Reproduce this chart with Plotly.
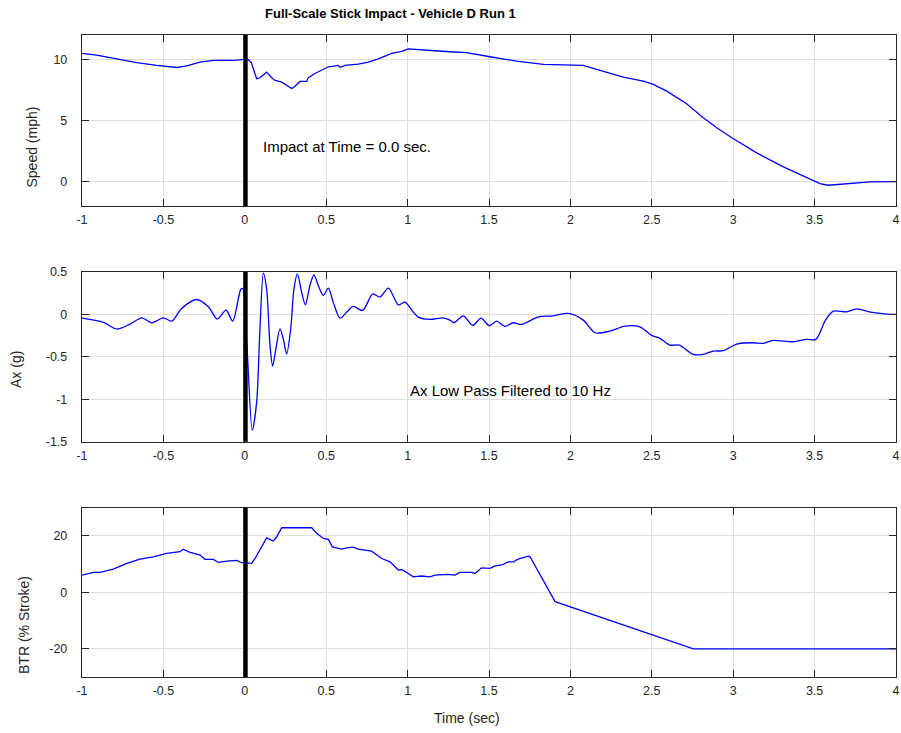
import plotly.graph_objects as go

# ---------------- data ----------------
speed_t = [-1.0, -0.91, -0.787, -0.664, -0.541, -0.418, -0.357, -0.275, -0.193, -0.07, 0.0,
           0.02, 0.04, 0.073, 0.093, 0.134, 0.165, 0.186, 0.227, 0.257, 0.288, 0.308, 0.339,
           0.38, 0.39, 0.431, 0.472, 0.513, 0.574, 0.585, 0.615, 0.697, 0.759, 0.82, 0.902,
           0.964, 1.004, 1.086, 1.168, 1.26, 1.363, 1.506, 1.67, 1.834, 1.998, 2.079, 2.182,
           2.325, 2.448, 2.509, 2.592, 2.714, 2.816, 2.899, 3.001, 3.144, 3.308, 3.43, 3.533,
           3.584, 3.717, 3.84, 4.0]
speed_v = [10.49, 10.35, 10.05, 9.73, 9.51, 9.34, 9.48, 9.78, 9.92, 9.92, 10.0,
           10.0, 9.73, 8.42, 8.5, 8.96, 8.5, 8.28, 8.14, 7.9, 7.62, 7.81, 8.2,
           8.2, 8.5, 8.85, 9.12, 9.4, 9.51, 9.34, 9.51, 9.61, 9.78, 10.05, 10.49,
           10.66, 10.87, 10.82, 10.71, 10.63, 10.55, 10.22, 9.86, 9.59, 9.56, 9.51, 9.1,
           8.55, 8.22, 7.95, 7.4, 6.37, 5.22, 4.4, 3.5, 2.35, 1.2, 0.49, -0.16,
           -0.3, -0.16, -0.03, 0.0]

ax_t = [-1.0, -0.869, -0.787, -0.705, -0.633, -0.572, -0.5, -0.449, -0.388, -0.295, -0.224,
        -0.169, -0.115, -0.074, -0.025, -0.013, 0.012, 0.046, 0.073, 0.093, 0.114, 0.134,
        0.155, 0.171, 0.191, 0.216, 0.236, 0.257, 0.282, 0.302, 0.323, 0.349, 0.372, 0.4,
        0.425, 0.451, 0.482, 0.513, 0.543, 0.585, 0.626, 0.666, 0.724, 0.786, 0.83, 0.882,
        0.943, 0.984, 1.035, 1.066, 1.138, 1.219, 1.26, 1.285, 1.342, 1.4, 1.451, 1.502,
        1.547, 1.598, 1.649, 1.701, 1.803, 1.895, 1.987, 2.079, 2.151, 2.243, 2.335, 2.427,
        2.499, 2.55, 2.611, 2.669, 2.755, 2.816, 2.878, 2.939, 3.021, 3.123, 3.185, 3.246,
        3.369, 3.451, 3.508, 3.567, 3.615, 3.697, 3.759, 3.843, 3.946, 4.0]
ax_v = [-0.044, -0.094, -0.173, -0.114, -0.04, -0.099, -0.04, -0.079, 0.07, 0.176, 0.09,
        -0.055, 0.05, -0.079, 0.294, 0.306, -0.326, -1.365, -1.03, -0.17, 0.486, 0.30,
        -0.365, -0.608, -0.405, -0.17, -0.287, -0.467, -0.17, 0.30, 0.478, 0.262, 0.113, 0.341,
        0.466, 0.341, 0.224, 0.309, 0.145, -0.044, 0.027, 0.094, 0.047, 0.242, 0.204, 0.309,
        0.113, 0.145, 0.027, -0.032, -0.059, -0.04, -0.067, -0.098, -0.016, -0.13, -0.044, -0.134,
        -0.079, -0.141, -0.098, -0.118, -0.028, -0.016, 0.012, -0.067, -0.216, -0.196, -0.138, -0.146,
        -0.247, -0.282, -0.361, -0.361, -0.471, -0.471, -0.432, -0.428, -0.349, -0.334, -0.341, -0.306,
        -0.322, -0.294, -0.294, -0.067, 0.039, 0.031, 0.066, 0.027, 0.004, 0.0]

btr_t = [-1.0, -0.93, -0.889, -0.808, -0.725, -0.644, -0.562, -0.48, -0.398, -0.378, -0.336,
         -0.275, -0.245, -0.193, -0.163, -0.111, -0.05, -0.019, 0.042, 0.063, 0.134, 0.155,
         0.175, 0.196, 0.227, 0.411, 0.442, 0.482, 0.513, 0.538, 0.595, 0.626, 0.666, 0.697,
         0.779, 0.841, 0.892, 0.943, 0.964, 1.004, 1.035, 1.086, 1.138, 1.168, 1.25, 1.291,
         1.322, 1.393, 1.414, 1.455, 1.506, 1.537, 1.578, 1.619, 1.649, 1.68, 1.741, 1.752,
         1.906, 2.755, 4.0]
btr_v = [6.1, 7.1, 7.1, 8.25, 10.3, 11.8, 12.6, 13.8, 14.4, 15.3, 14.2,
         13.2, 11.7, 11.7, 10.6, 11.1, 11.3, 10.5, 10.3, 12.0, 19.3, 18.8,
         18.2, 19.7, 22.9, 22.9, 20.9, 19.1, 18.8, 16.1, 15.3, 15.8, 16.0, 15.3,
         14.6, 12.0, 10.8, 7.9, 8.1, 6.7, 5.5, 5.8, 5.5, 6.1, 6.4, 6.1,
         7.1, 7.1, 6.7, 8.7, 8.5, 9.4, 9.7, 10.8, 10.8, 11.8, 12.85, 12.6,
         -3.3, -20.0, -20.0]

x_ticks = [-1, -0.5, 0, 0.5, 1, 1.5, 2, 2.5, 3, 3.5, 4]
x_tick_text = ["-1", "-0.5", "0", "0.5", "1", "1.5", "2", "2.5", "3", "3.5", "4"]
speed_ticks = [0, 5, 10]
speed_tick_text = ["0", "5", "10"]
ax_ticks = [-1.5, -1, -0.5, 0, 0.5]
ax_tick_text = ["-1.5", "-1", "-0.5", "0", "0.5"]
btr_ticks = [-20, 0, 20]
btr_tick_text = ["-20", "0", "20"]

impact_time = 0.004

title_text = "Full-Scale Stick Impact - Vehicle D Run 1"
speed_label = "Speed (mph)"
ax_label = "Ax (g)"
btr_label = "BTR (% Stroke)"
x_label = "Time (sec)"
note_speed = "Impact at Time = 0.0 sec."
note_ax = "Ax Low Pass Filtered to 10 Hz"

# ---------------- figure ----------------
W, H = 901, 733
FONT = "Liberation Sans, Arial, sans-serif"
AXC = "#262626"
GRID = "#dedede"
BLUE = "#0000ff"


def px(x):
    return x / W


def py(y):
    return 1 - y / H


fig = go.Figure()
fig.add_trace(go.Scatter(x=speed_t, y=speed_v, mode="lines", line=dict(color=BLUE, width=1.3),
                         xaxis="x", yaxis="y", showlegend=False))
fig.add_trace(go.Scatter(x=ax_t, y=ax_v, mode="lines",
                         line=dict(color=BLUE, width=1.3, shape="spline", smoothing=0.8),
                         xaxis="x2", yaxis="y2", showlegend=False))
fig.add_trace(go.Scatter(x=btr_t, y=btr_v, mode="lines", line=dict(color=BLUE, width=1.3),
                         xaxis="x3", yaxis="y3", showlegend=False))

xdom = [px(82), px(896)]
doms = [
    [py(206), py(35)],
    [py(441.7), py(272)],
    [py(677), py(507.7)],
]


def xax(anchor):
    return dict(domain=xdom, anchor=anchor, range=[-1, 4], tickvals=x_ticks, ticktext=x_tick_text,
                ticks="inside", ticklen=7, tickwidth=1, tickcolor=AXC, showline=True,
                linecolor=AXC, linewidth=1.2, mirror="ticks", showgrid=True, gridcolor=GRID,
                gridwidth=1, zeroline=False, tickfont=dict(family=FONT, size=12.5, color=AXC),
                ticklabelstandoff=2, ticklabeloverflow="allow", automargin=False)


def yax(anchor, dom, rng, tv, tt):
    return dict(domain=dom, anchor=anchor, range=rng, tickvals=tv, ticktext=tt,
                ticks="inside", ticklen=7, tickwidth=1, tickcolor=AXC, showline=True,
                linecolor=AXC, linewidth=1.2, mirror="ticks", showgrid=True, gridcolor=GRID,
                gridwidth=1, zeroline=False, tickfont=dict(family=FONT, size=12.5, color=AXC),
                ticklabelstandoff=11, ticklabeloverflow="allow", automargin=False)


fig.update_layout(
    template="none",
    width=W, height=H,
    margin=dict(l=0, r=0, t=0, b=0, pad=0, autoexpand=False),
    paper_bgcolor="white", plot_bgcolor="white",
    hovermode=False,
    xaxis=xax("y"), yaxis=yax("x", doms[0], [-2, 12], speed_ticks, speed_tick_text),
    xaxis2=xax("y2"), yaxis2=yax("x2", doms[1], [-1.5, 0.5], ax_ticks, ax_tick_text),
    xaxis3=xax("y3"), yaxis3=yax("x3", doms[2], [-30, 30], btr_ticks, btr_tick_text),
)

for xr, yr in [("x", "y"), ("x2", "y2"), ("x3", "y3")]:
    fig.add_shape(type="line", xref=xr, yref=yr + " domain", x0=impact_time, x1=impact_time,
                  y0=0, y1=1, line=dict(color="black", width=4.5), layer="above")

ann = []
ann.append(dict(text="<b>" + title_text + "</b>", x=px(390), y=py(13), xref="paper", yref="paper",
                xanchor="center", yanchor="middle", showarrow=False,
                font=dict(family=FONT, size=13, color="black")))
for lab, xp, yp in [(speed_label, 32, 147.5), (ax_label, 16, 370), (btr_label, 24, 625)]:
    ann.append(dict(text=lab, x=px(xp), y=py(yp), xref="paper", yref="paper", textangle=-90,
                    xanchor="center", yanchor="middle", showarrow=False,
                    font=dict(family=FONT, size=14, color=AXC)))
ann.append(dict(text=x_label, x=px(467), y=py(718), xref="paper", yref="paper",
                xanchor="center", yanchor="middle", showarrow=False,
                font=dict(family=FONT, size=14, color=AXC)))
ann.append(dict(text=note_speed, x=0.1, y=2.9, xref="x", yref="y", xanchor="left", yanchor="middle",
                showarrow=False, font=dict(family=FONT, size=15, color="black")))
ann.append(dict(text=note_ax, x=1.0, y=-0.9, xref="x2", yref="y2", xanchor="left", yanchor="middle",
                showarrow=False, font=dict(family=FONT, size=15, color="black")))
fig.update_layout(annotations=ann)

# remove the browser's default page margin so the figure fills the window exactly
fig.write_html("out.html",
               config={"displayModeBar": False, "staticPlot": True},
               post_script="document.body.style.margin='0';document.body.style.overflow='hidden';")
